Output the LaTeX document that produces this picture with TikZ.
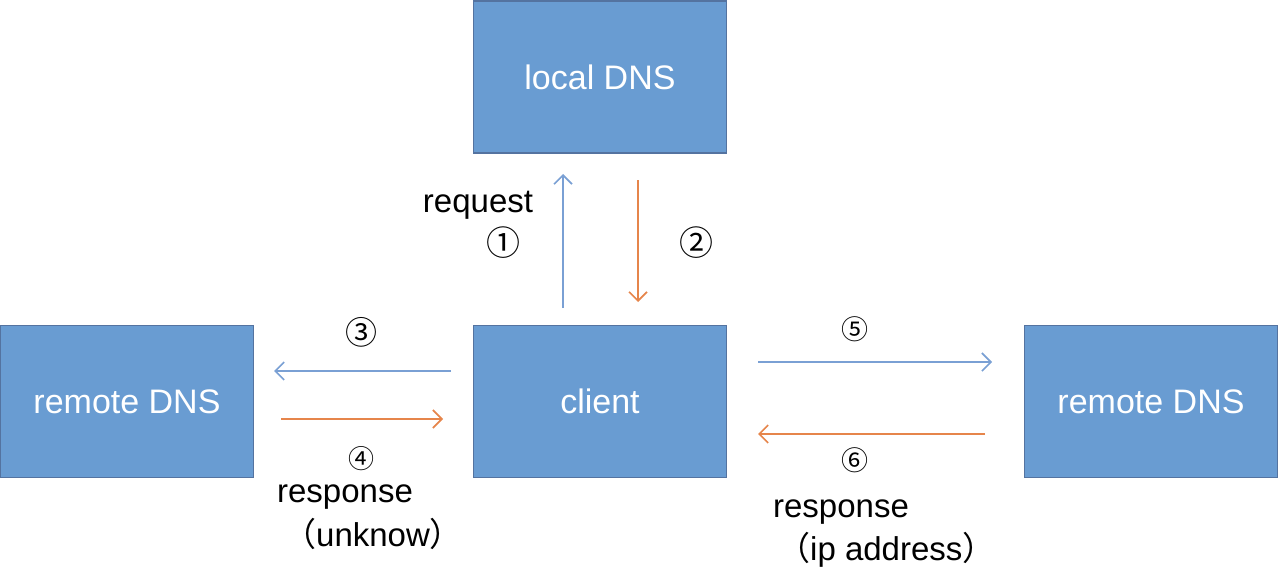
\documentclass[tikz,border=0pt]{standalone}
\usepackage{fontspec}
\setmainfont{Liberation Sans}
\newfontfamily\cjk{Noto Sans CJK SC}
\usetikzlibrary{arrows.meta}
\definecolor{boxfill}{RGB}{105,156,210}
\definecolor{boxline}{RGB}{84,115,160}
\definecolor{ablue}{RGB}{122,160,212}
\definecolor{aorange}{RGB}{230,133,75}
\tikzset{
  box/.style={draw=boxline, line width=1.5pt, fill=boxfill, minimum width=253pt, minimum height=152pt, inner sep=0pt, text=white, font=\fontsize{34}{40}\selectfont},
  bluearrow/.style={draw=ablue, line width=1.6pt, -{Straight Barb[length=9pt,width=18pt,line width=1.6pt]}},
  orangearrow/.style={draw=aorange, line width=1.6pt, -{Straight Barb[length=9pt,width=18pt,line width=1.6pt]}},
  lbl/.style={font=\fontsize{33}{38}\selectfont, text=black, inner sep=0pt},
  num/.style={font=\cjk\fontsize{34}{38}\selectfont, text=black, inner sep=0pt},
}
\begin{document}
\begin{tikzpicture}[x=1pt,y=-1pt]
\useasboundingbox (0,0) rectangle (1280,575);
\node[box] (local) at (600,77) {local DNS};
\node[box] (client) at (600,401.5) {client};
\node[box] (rl) at (127,401.5) {remote DNS};
\node[box] (rr) at (1151,401.5) {remote DNS};
% arrows
\coordinate (a1s) at (563,308); \coordinate (a1e) at (563,174);
\coordinate (a2s) at (638,180); \coordinate (a2e) at (638,302);
\coordinate (a3s) at (451,371); \coordinate (a3e) at (274,371);
\coordinate (a4s) at (281,419); \coordinate (a4e) at (443,419);
\coordinate (a5s) at (758,362); \coordinate (a5e) at (992,362);
\coordinate (a6s) at (985,434); \coordinate (a6e) at (758,434);
\draw[bluearrow] (a1s) -- (a1e);
\draw[orangearrow] (a2s) -- (a2e);
\draw[bluearrow] (a3s) -- (a3e);
\draw[orangearrow] (a4s) -- (a4e);
\draw[bluearrow] (a5s) -- (a5e);
\draw[orangearrow] (a6s) -- (a6e);
% labels
\node[lbl] (req) at (478,205) {request};
\node[num] (n1) at (503,243) {①};
\node[num] (n2) at (696,243) {②};
\node[num,font=\cjk\fontsize{32}{36}\selectfont] (n3) at (361,332) {③};
\node[num,font=\cjk\fontsize{26}{30}\selectfont] (n4) at (361,459) {④};
\node[lbl] (resp1) at (345,497) {response};
\node[lbl, anchor=west] (unk) at (283,534) {{\cjk （}unknow{\cjk ）}};
\node[num,font=\cjk\fontsize{27}{32}\selectfont] (n5) at (855,329) {⑤};
\node[num,font=\cjk\fontsize{27}{32}\selectfont] (n6) at (855,460) {⑥};
\node[lbl] (resp2) at (841,512) {response};
\node[lbl, anchor=west] (ip) at (777,550) {{\cjk （}ip address{\cjk ）}};
\end{tikzpicture}
\end{document}
